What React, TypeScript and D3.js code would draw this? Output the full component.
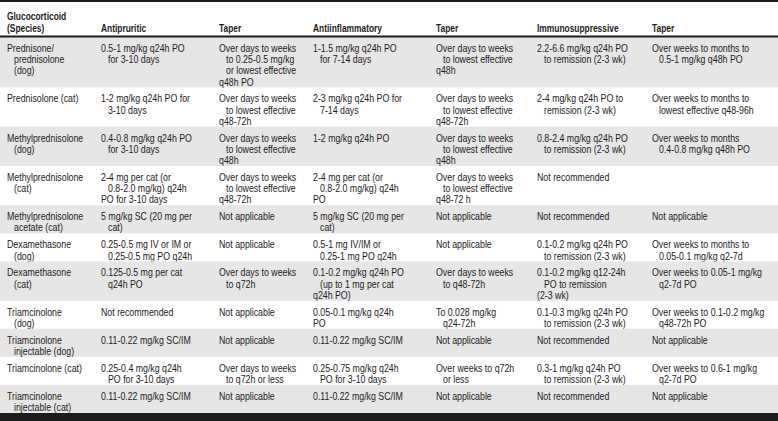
import * as d3 from 'd3'

// header labels; "\n" = new line, "!" at line start = no hanging indent
const headers = ['Glucocorticoid\n!(Species)', 'Antipruritic', 'Taper', 'Antiinflammatory', 'Taper', 'Immunosuppressive', 'Taper']

const species = [
  'Prednisone/\nprednisolone\n(dog)',
  'Prednisolone (cat)',
  'Methylprednisolone\n(dog)',
  'Methylprednisolone\n(cat)',
  'Methylprednisolone\nacetate (cat)',
  'Dexamethasone\n(dog)',
  'Dexamethasone\n(cat)',
  'Triamcinolone\n(dog)',
  'Triamcinolone\ninjectable (dog)',
  'Triamcinolone (cat)',
  'Triamcinolone\ninjectable (cat)',
]

const antipruritic = [
  '0.5-1 mg/kg q24h PO\nfor 3-10 days',
  '1-2 mg/kg q24h PO for\n3-10 days',
  '0.4-0.8 mg/kg q24h PO\nfor 3-10 days',
  '2-4 mg per cat (or\n0.8-2.0 mg/kg) q24h\n!PO for 3-10 days',
  '5 mg/kg SC (20 mg per\ncat)',
  '0.25-0.5 mg IV or IM or\n0.25-0.5 mg PO q24h',
  '0.125-0.5 mg per cat\nq24h PO',
  'Not recommended',
  '0.11-0.22 mg/kg SC/IM',
  '0.25-0.4 mg/kg q24h\nPO for 3-10 days',
  '0.11-0.22 mg/kg SC/IM',
]

const taperPruritic = [
  'Over days to weeks\nto 0.25-0.5 mg/kg\nor lowest effective\n!q48h PO',
  'Over days to weeks\nto lowest effective\n!q48-72h',
  'Over days to weeks\nto lowest effective\n!q48h',
  'Over days to weeks\nto lowest effective\n!q48-72h',
  'Not applicable',
  'Not applicable',
  'Over days to weeks\nto q72h',
  'Not applicable',
  'Not applicable',
  'Over days to weeks\nto q72h or less',
  'Not applicable',
]

const antiinflammatory = [
  '1-1.5 mg/kg q24h PO\nfor 7-14 days',
  '2-3 mg/kg q24h PO for\n7-14 days',
  '1-2 mg/kg q24h PO',
  '2-4 mg per cat (or\n0.8-2.0 mg/kg) q24h\n!PO',
  '5 mg/kg SC (20 mg per\ncat)',
  '0.5-1 mg IV/IM or\n0.25-1 mg PO q24h',
  '0.1-0.2 mg/kg q24h PO\n(up to 1 mg per cat\n!q24h PO)',
  '0.05-0.1 mg/kg q24h\n!PO',
  '0.11-0.22 mg/kg SC/IM',
  '0.25-0.75 mg/kg q24h\nPO for 3-10 days',
  '0.11-0.22 mg/kg SC/IM',
]

const taperInflammatory = [
  'Over days to weeks\nto lowest effective\n!q48h',
  'Over days to weeks\nto lowest effective\n!q48-72h',
  'Over days to weeks\nto lowest effective\n!q48h',
  'Over days to weeks\nto lowest effective\n!q48-72 h',
  'Not applicable',
  'Not applicable',
  'Over days to weeks\nto q48-72h',
  'To 0.028 mg/kg\nq24-72h',
  'Not applicable',
  'Over weeks to q72h\nor less',
  'Not applicable',
]

const immunosuppressive = [
  '2.2-6.6 mg/kg q24h PO\nto remission (2-3 wk)',
  '2-4 mg/kg q24h PO to\nremission (2-3 wk)',
  '0.8-2.4 mg/kg q24h PO\nto remission (2-3 wk)',
  'Not recommended',
  'Not recommended',
  '0.1-0.2 mg/kg q24h PO\nto remission (2-3 wk)',
  '0.1-0.2 mg/kg q12-24h\nPO to remission\n!(2-3 wk)',
  '0.1-0.3 mg/kg q24h PO\nto remission (2-3 wk)',
  'Not recommended',
  '0.3-1 mg/kg q24h PO\nto remission (2-3 wk)',
  'Not recommended',
]

const taperImmuno = [
  'Over weeks to months to\n0.5-1 mg/kg q48h PO',
  'Over weeks to months to\nlowest effective q48-96h',
  'Over weeks to months\n0.4-0.8 mg/kg q48h PO',
  '',
  'Not applicable',
  'Over weeks to months to\n0.05-0.1 mg/kg q2-7d',
  'Over weeks to 0.05-1 mg/kg\nq2-7d PO',
  'Over weeks to 0.1-0.2 mg/kg\nq48-72h PO',
  'Not applicable',
  'Over weeks to 0.6-1 mg/kg\nq2-7d PO',
  'Not applicable',
]

const W = 778
const H = 421
const font = "'Liberation Sans', Arial, sans-serif"
const ink = '#1e1b1c'
const shade = '#e6e6e6'
const squeeze = 0.8 // narrow the face, the source uses a condensed sans

const colX = [7, 101, 219, 313, 436, 537, 652]
const indent = 7
const lineH = 11.2
const rowPad = 5.7
const headerBottom = 37
const bodyBottom = 413

const parse = (s: string) =>
  s === '' ? [] : s.split('\n').map((t, i) => {
    const flush = t.startsWith('!')
    return { text: flush ? t.slice(1) : t, dx: i === 0 || flush ? 0 : indent }
  })

function Line({ x, y, text, bold }: { x: number; y: number; text: string; bold?: boolean }) {
  return (
    <text
      transform={`translate(${x},${y}) scale(${squeeze},1)`}
      fontSize={bold ? 10.5 : 11}
      fontWeight={bold ? 700 : 400}
      fill={ink}
    >
      {text}
    </text>
  )
}

export default function App() {
  const cols = [species, antipruritic, taperPruritic, antiinflammatory, taperInflammatory, immunosuppressive, taperImmuno]
  const x = d3.scaleOrdinal<number, number>().domain(d3.range(cols.length)).range(colX)

  const rows = species.map((_, r) => cols.map((c) => parse(c[r])))
  const nLines = rows.map((cells) => d3.max(cells, (c) => c.length) || 1)
  const heights = nLines.map((n) => n * lineH + rowPad)
  const ends = Array.from(d3.cumsum(heights))
  const y = d3.scaleLinear().domain([0, ends[ends.length - 1]]).range([headerBottom, bodyBottom])
  const tops = [0, ...ends.slice(0, -1)]

  const head = headers.map(parse)

  return (
    <svg width={W} height={H} style={{ position: 'absolute', left: 0, top: 0, background: '#fff' }} fontFamily={font}>
      {rows.map((cells, r) => (
        <g key={r}>
          {r % 2 === 0 && (
            <rect x={0} y={y(tops[r])} width={W} height={y(ends[r]) - y(tops[r])} fill={shade} />
          )}
          {cells.map((lines, c) =>
            lines.map((l, i) => (
              <Line key={c + '-' + i} x={x(c) + l.dx} y={y(tops[r]) + 15 + i * lineH} text={l.text} />
            ))
          )}
        </g>
      ))}
      <rect x={0} y={0} width={W} height={2} fill={ink} />
      {head.map((lines, c) =>
        lines.map((l, i) => (
          <Line key={c + '-' + i} x={x(c) + l.dx} y={31.5 - (lines.length - 1 - i) * lineH} text={l.text} bold />
        ))
      )}
      <rect x={0} y={35.5} width={W} height={2} fill={ink} />
      <rect x={0} y={bodyBottom} width={W} height={H - bodyBottom} fill={ink} />
    </svg>
  )
}
